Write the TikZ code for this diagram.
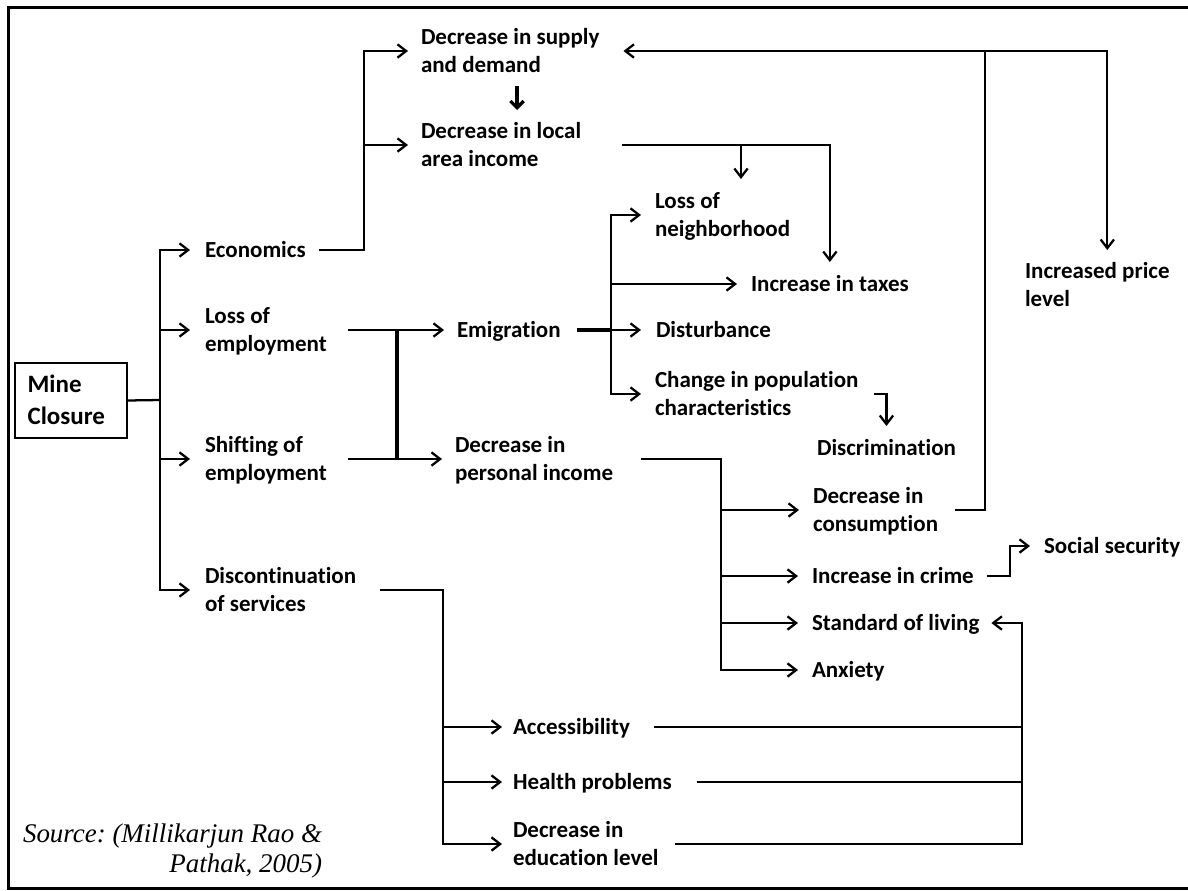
\documentclass[tikz,border=0pt]{standalone}
\usepackage{fontspec}
\usetikzlibrary{arrows.meta,calc}
\newfontfamily\mcfont[Ligatures={NoCommon}]{Carlito}
\newfontfamily\srcfont{Liberation Serif}
\frenchspacing
% struts that centre each line box on the visual middle of the letters
\newcommand{\ls}{\rule[-4.9pt]{0pt}{21pt}}
\newcommand{\lm}{\rule[-5.75pt]{0pt}{23.5pt}}
\newcommand{\lsr}{\rule[-4.1pt]{0pt}{21pt}}
\begin{document}
\begin{tikzpicture}[x=0.75pt,y=-0.75pt,
  txt/.style={anchor=west,align=left,inner sep=0pt,outer sep=0pt,
    font=\mcfont\bfseries\fontsize{17.25pt}{21pt}\selectfont},
  rootbox/.style={draw,line width=1.5pt,anchor=west,align=left,outer sep=0pt,
    inner xsep=9.45pt,inner ysep=0pt,text width=65pt,minimum height=56.25pt,
    font=\mcfont\bfseries\fontsize{18.75pt}{23.5pt}\selectfont},
  src/.style={anchor=east,align=right,inner sep=0pt,outer sep=0pt,
    font=\srcfont\itshape\fontsize{20.2pt}{21pt}\selectfont},
  ln/.style={line width=1.7pt},
  bus/.style={line width=2.1pt},
  tln/.style={line width=2.8pt},
  arr/.style={ln,-{Straight Barb[length=6.5pt,width=10pt]}},
  barr/.style={line width=2.4pt,-{Straight Barb[length=5pt,width=10pt]}},
  frame/.style={line width=2.25pt}]

\useasboundingbox (0,0) rectangle (1188,890);
\draw[frame] (1192,7) -| (8,888) -- (1192,888);

% ---- nodes ----
\node[rootbox] (mc) at (15,400.5) {\lm Mine\\\lm Closure};

\node[txt] (eco) at (205,250) {\ls Economics};
\node[txt] (loe) at (205,330) {\ls Loss of\\\ls employment};
\node[txt] (soe) at (205,459) {\ls Shifting of\\\ls employment};
\node[txt] (dos) at (205,590) {\ls Discontinuation\\\ls of services};

\node[txt] (dsd) at (421,51) {\ls Decrease in supply\\\ls and demand};
\node[txt] (dli) at (421,145) {\ls Decrease in local\\\ls area income};
\node[txt] (emi) at (457,330) {\ls Emigration};
\node[txt] (dpi) at (455,459) {\ls Decrease in\\\ls personal income};

\node[txt] (lon) at (655,215) {\ls Loss of\\\ls neighborhood};
\node[txt] (iit) at (751,284) {\ls Increase in taxes};
\node[txt] (dis) at (656,330) {\ls Disturbance};
\node[txt] (cpc) at (655,394) {\ls Change in population\\\ls characteristics};
\node[txt] (dsc) at (817,448) {\ls Discrimination};
\node[txt] (ipl) at (1025,285) {\ls Increased price\\\ls level};

\node[txt] (dic) at (813,510) {\ls Decrease in\\\ls consumption};
\node[txt] (iic) at (812,576) {\ls Increase in crime};
\node[txt] (ssc) at (1044,546) {\ls Social security};
\node[txt] (sol) at (812,623) {\ls Standard of living};
\node[txt] (anx) at (812,670) {\ls Anxiety};

\node[txt] (acc) at (513,727) {\ls Accessibility};
\node[txt] (hpr) at (513,782) {\ls Health problems};
\node[txt] (del) at (513,844) {\ls Decrease in\\\ls education level};

\node[src] (source) at (322,849) {\lsr Source: (Millikarjun Rao \&\\\lsr Pathak, 2005)};

% ---- junction points ----
\coordinate (b1) at (160,400);
\coordinate (j1) at (364,51);
\coordinate (b2) at (397,400);
\coordinate (j3) at (741,145);
\coordinate (b3) at (611,330);
\coordinate (b4) at (721,600);
\coordinate (j5) at (985,51);
\coordinate (b5) at (443,700);
\coordinate (b6) at (1022,700);

% ---- connectors ----
% root to the four main effects
\draw[ln] (mc.east) -- (b1);
\draw[bus] (b1 |- eco.west) -- (b1 |- dos.west);
\foreach \n in {eco,loe,soe,dos}
  \draw[arr] (b1) |- ($(\n.west)+(-15,0)$);

% economics branch
\draw[arr] ($(eco.east)+(13,0)$) -| (j1) -- ($(dsd.west)+(-13,0)$);
\draw[arr] (j1 |- dli.west) -- ($(dli.west)+(-13,0)$);
\draw[barr] ($(dsd.south west)+(96,7)$) -- ($(dli.north west)+(96,-7)$);

% local area income
\draw[arr] ($(dli.east)+(41,0)$) -| ($(iit.north)+(0,-8)$);
\draw[arr] (j3) -- ($(j3 |- lon.north)+(0,-8)$);

% employment to emigration and personal income
\draw[ln] ($(loe.east)+(21,0)$) -- (loe.east -| b2);
\draw[ln] ($(soe.east)+(21,0)$) -- (soe.east -| b2);
\draw[tln] (loe.east -| b2) -- (soe.east -| b2);
\draw[arr] (loe.east -| b2) -- ($(emi.west)+(-13,0)$);
\draw[arr] (soe.east -| b2) -- ($(dpi.west)+(-13,0)$);

% emigration effects
\draw[tln] ($(emi.east)+(16,0)$) -- (b3);
\draw[bus] (b3 |- lon.west) -- (b3 |- cpc.west);
\draw[arr] (b3) |- ($(lon.west)+(-14,0)$);
\draw[arr] (b3 |- iit.west) -- ($(iit.west)+(-14,0)$);
\draw[arr] (b3) -- ($(dis.west)+(-15,0)$);
\draw[arr] (b3) |- ($(cpc.west)+(-14,0)$);
\draw[arr] ($(cpc.east)+(16,0)$) -| ($(dsc.north)+(0,-8)$);

% personal income effects
\draw[bus] (b4 |- dpi.east) -- (b4 |- anx.west);
\draw[arr] ($(dpi.east)+(28,0)$) -| (b4) |- ($(anx.west)+(-14,0)$);
\foreach \n in {dic,iic,sol}
  \draw[arr] (b4 |- \n.west) -- ($(\n.west)+(-14,0)$);

% consumption feedback
\draw[ln] ($(dic.east)+(17,0)$) -| (j5);
\draw[arr] (j5) -- ($(dsd.east)+(24,0)$);
\draw[arr] (j5) -| ($(ipl.north)+(10,-7)$);

% crime to social security
\draw[arr] ($(iic.east)+(13,0)$) -- ++(23,0) |- ($(ssc.west)+(-14,0)$);

% services branch
\draw[bus] (b5 |- dos.east) -- (b5 |- del.west);
\draw[arr] ($(dos.east)+(24,0)$) -| (b5) |- ($(del.west)+(-11,0)$);
\foreach \n in {acc,hpr}
  \draw[arr] (b5 |- \n.west) -- ($(\n.west)+(-11,0)$);

% services back to standard of living
\draw[ln] ($(acc.east)+(24,0)$) -- (acc.east -| b6);
\draw[ln] ($(hpr.east)+(25,0)$) -- (hpr.east -| b6);
\draw[bus] (b6 |- sol.east) -- (b6 |- del.east);
\draw[arr] ($(del.east)+(17,0)$) -| (b6) |- ($(sol.east)+(12,0)$);
\end{tikzpicture}
\end{document}
